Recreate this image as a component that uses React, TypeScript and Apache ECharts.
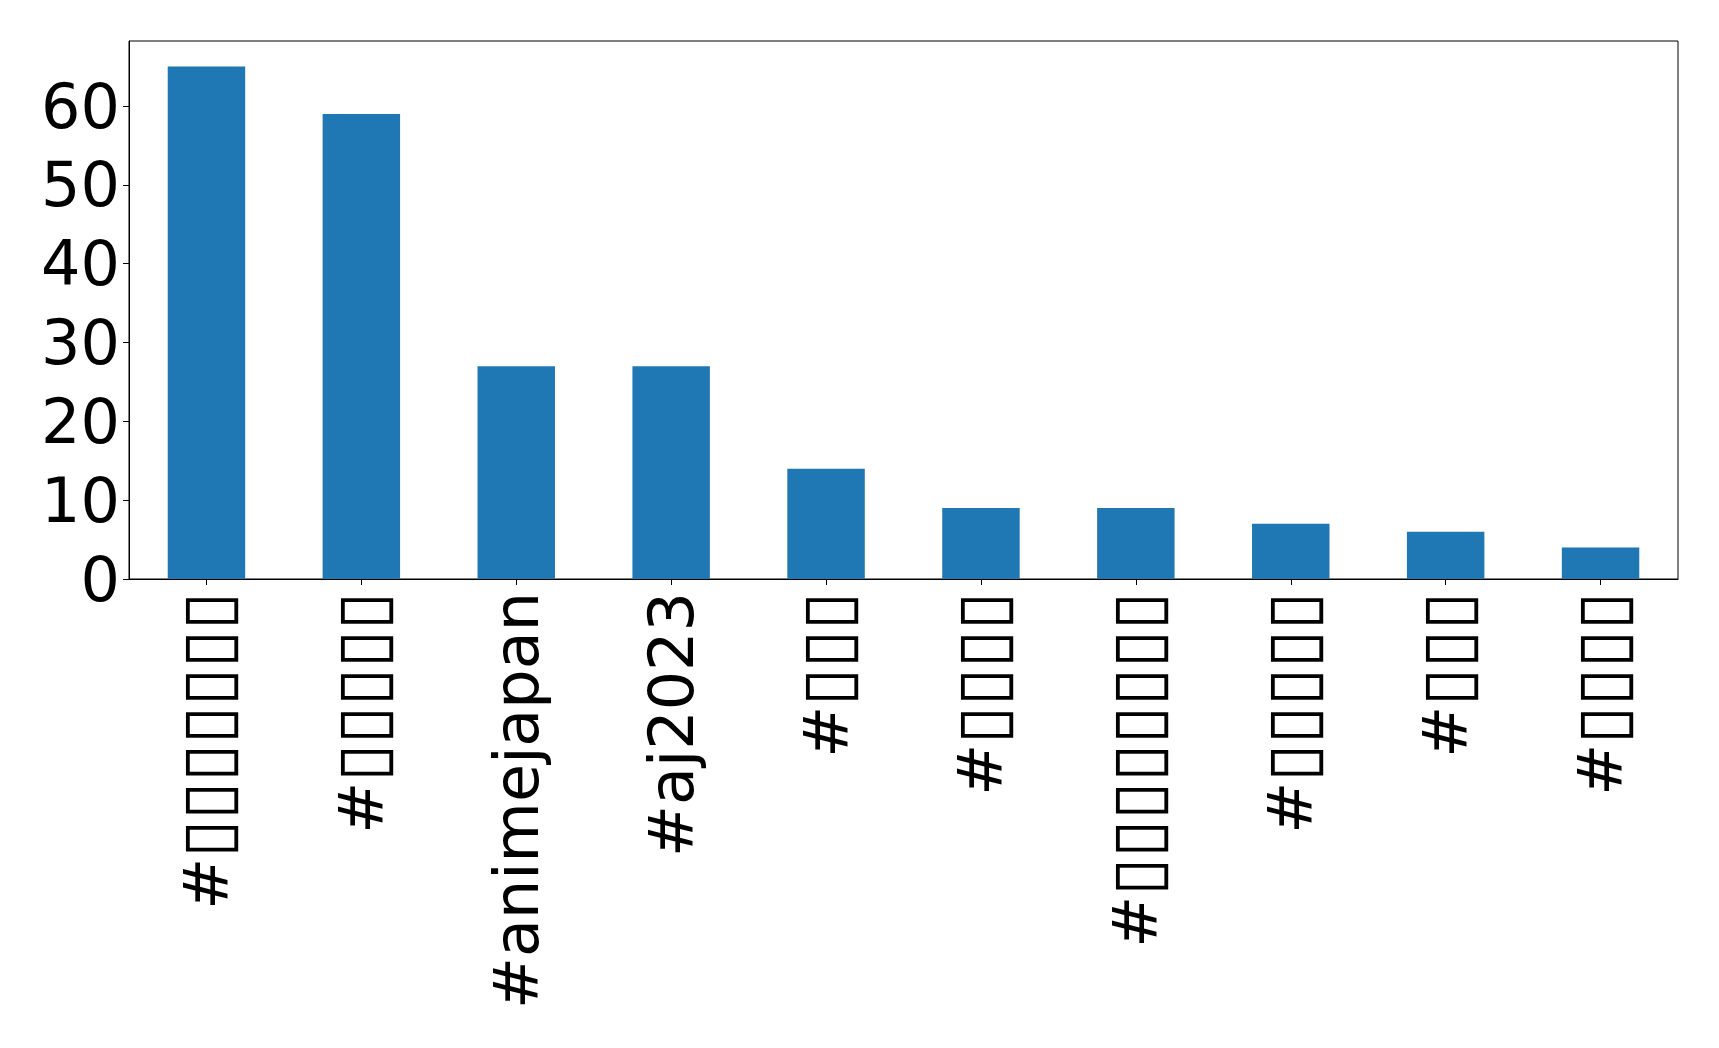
import React, { useEffect, useRef } from "react";
import * as echarts from "echarts";

const categories = [
  "#▯▯▯▯▯▯▯",
  "#▯▯▯▯▯",
  "#animejapan",
  "#aj2023",
  "#▯▯▯",
  "#▯▯▯▯",
  "#▯▯▯▯▯▯▯▯",
  "#▯▯▯▯▯",
  "#▯▯▯",
  "#▯▯▯▯",
];
const counts = [65, 59, 27, 27, 14, 9, 9, 7, 6, 4];
const yTicks = [0, 10, 20, 30, 40, 50, 60];

export default function App() {
  const ref = useRef<HTMLDivElement>(null);
  useEffect(() => {
    if (!ref.current) return;
    const chart = echarts.init(ref.current, null, { renderer: "svg" });
    const font = "DejaVu Sans";
    chart.setOption({
      animation: false,
      backgroundColor: "#fff",
      grid: {
        left: 129,
        right: 41,
        top: 41,
        bottom: 469,
        show: true,
        borderColor: "#000",
        borderWidth: 1,
        backgroundColor: "transparent",
      },
      xAxis: {
        type: "category",
        data: categories,
        boundaryGap: true,
        axisLine: { lineStyle: { color: "#000", width: 1 } },
        axisTick: { show: true, alignWithLabel: true, length: 6, lineStyle: { color: "#000" } },
        axisLabel: {
          rotate: 90,
          interval: 0,
          margin: 13,
          fontFamily: font,
          fontSize: 62,
          color: "#000",
          formatter: (v: string) => v.replace(/(▯+)/, "{b|$1}"),
          rich: {
            b: { fontFamily: font, fontSize: 69, color: "#000" },
          },
        },
        splitLine: { show: false },
      },
      yAxis: {
        type: "value",
        min: 0,
        max: 68.25,
        interval: 10,
        axisLine: { show: true, lineStyle: { color: "#000", width: 1 } },
        axisTick: { show: true, length: 6, lineStyle: { color: "#000" }, customValues: yTicks },
        axisLabel: {
          margin: 9,
          fontFamily: font,
          fontSize: 62,
          color: "#000",
          customValues: yTicks,
        },
        splitLine: { show: false },
      },
      series: [
        {
          type: "bar",
          data: counts,
          barWidth: "50%",
          itemStyle: { color: "#1f77b4" },
        },
      ],
    });
    return () => chart.dispose();
  }, []);
  return (
    <div
      ref={ref}
      style={{ position: "fixed", left: 0, top: 0, width: 1719, height: 1048 }}
    />
  );
}
